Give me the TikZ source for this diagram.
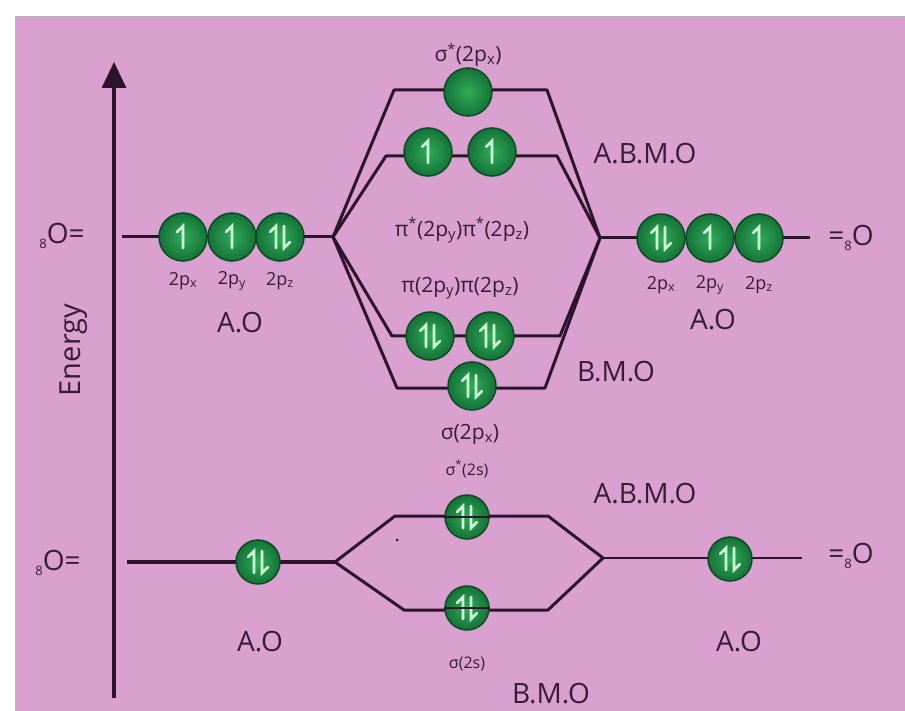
\documentclass[tikz,border=0pt]{standalone}
\usepackage{fontspec}
\setmainfont{Open Sans}
\usetikzlibrary{arrows.meta}
\definecolor{bgpink}{RGB}{218,161,208}
\definecolor{ink}{RGB}{45,20,45}
\definecolor{txt}{RGB}{55,28,55}
\definecolor{orbin}{RGB}{50,170,90}
\definecolor{orbout}{RGB}{20,115,55}
\definecolor{orbedge}{RGB}{10,75,35}
\definecolor{elec}{RGB}{205,255,215}
\tikzset{
 orb/.style={circle, minimum size=48pt, inner sep=0pt, draw=orbedge, line width=1.5pt, inner color=orbin, outer color=orbout},
 orbs/.style={orb, minimum size=44pt},
 mo/.style={draw=ink, line width=3pt, line join=round},
 lbl/.style={text=txt, inner sep=0pt, font=\fontsize{28}{28}\selectfont},
 sublbl/.style={text=txt, inner sep=0pt, font=\fontsize{18}{18}\selectfont},
 mol/.style={text=txt, inner sep=0pt, font=\fontsize{21}{21}\selectfont},
 mos/.style={text=txt, inner sep=0pt, font=\fontsize{16}{16}\selectfont},
 el/.style={draw=elec, line width=2.6pt, line cap=round, line join=miter},
 upe/.pic={\draw[el] (0,11) -- (0,-11) -- (-6,-5);},
 dne/.pic={\draw[el] (0,-11) -- (0,11) -- (6,5);},
 paire/.pic={\draw[el] (-4,11) -- (-4,-11) -- (-10,-5); \draw[el] (4,-11) -- (4,11) -- (10,5);},
}
\begin{document}
\begin{tikzpicture}[x=1pt,y=-1pt]
\useasboundingbox (0,0) rectangle (905,711);
\fill[white] (0,0) rectangle (905,711);
\fill[bgpink] (15,17) rectangle (905,711);
\draw[gray!60, line width=1pt] (15,17) -- (905,17);

% energy axis
\coordinate (ax0) at (114,698);
\coordinate (ax1) at (114,62);
\draw[ink, line width=3.5pt, -{Triangle[length=26pt,width=24pt]}] (ax0) -- (ax1);
\node[lbl, rotate=90, font=\fontsize{29}{29}\selectfont] (energy) at (74,350) {Energy};

% ---------- upper (2p) part ----------
\coordinate (JL) at (333,237);
\coordinate (JR) at (600,238);
\coordinate (ALs) at (122,237);
\coordinate (ARe) at (810,238);
\coordinate (c1a) at (394,90);  \coordinate (c1b) at (547,90);
\coordinate (c2a) at (386,156); \coordinate (c2b) at (557,156);
\coordinate (c3a) at (392,336); \coordinate (c3b) at (560,336);
\coordinate (c4a) at (397,388); \coordinate (c4b) at (545,388);

\draw[mo] (ALs) -- (JL);
\draw[mo] (JR) -- (ARe);
\draw[mo] (JL) -- (c1a) -- (c1b) -- (JR);
\draw[mo] (JL) -- (c2a) -- (c2b) -- (JR);
\draw[mo] (JL) -- (c3a) -- (c3b) -- (JR);
\draw[mo] (JL) -- (c4a) -- (c4b) -- (JR);

\node[orb] (L1) at (183,237) {};
\node[orb] (L2) at (232,237) {};
\node[orb] (L3) at (280,237) {};
\node[orb] (R1) at (661,238) {};
\node[orb] (R2) at (710,238) {};
\node[orb] (R3) at (759,238) {};
\node[orb] (sab) at (468,92) {};
\node[orb] (pia1) at (428,152) {};
\node[orb] (pia2) at (492,152) {};
\node[orb] (pib1) at (430,336) {};
\node[orb] (pib2) at (490,336) {};
\node[orb] (sb) at (472,386) {};

\pic at (L1) {upe};
\pic at (L2) {upe};
\pic at (L3) {paire};
\pic at (R1) {paire};
\pic at (R2) {upe};
\pic at (R3) {upe};
\pic at (pia1) {upe};
\pic at (pia2) {upe};
\pic at (pib1) {paire};
\pic at (pib2) {paire};
\pic at (sb) {paire};

\node[sublbl] (l2px) at (183,281) {2p\textsubscript{x}};
\node[sublbl] (l2py) at (232,281) {2p\textsubscript{y}};
\node[sublbl] (l2pz) at (280,281) {2p\textsubscript{z}};
\node[sublbl] (r2px) at (661,285) {2p\textsubscript{x}};
\node[sublbl] (r2py) at (710,285) {2p\textsubscript{y}};
\node[sublbl] (r2pz) at (759,285) {2p\textsubscript{z}};

\node[mol] (tsab) at (468,55) {σ\textsuperscript{*}(2p\textsubscript{x})};
\node[mol] (tpia) at (462,230) {π\textsuperscript{*}(2p\textsubscript{y})π\textsuperscript{*}(2p\textsubscript{z})};
\node[mol] (tpib) at (460,288) {π(2p\textsubscript{y})π(2p\textsubscript{z})};
\node[mol] (tsb) at (470,434) {σ(2p\textsubscript{x})};

\node[lbl] (abmo1) at (645,154) {A.B.M.O};
\node[lbl] (bmo1) at (616,372) {B.M.O};
\node[lbl] (aol1) at (240,323) {A.O};
\node[lbl] (aor1) at (713,320) {A.O};
\node[lbl] (ol1) at (62,236) {{\fontsize{13}{13}\selectfont\raisebox{-5pt}{8}}O=};
\node[lbl] (or1) at (851,238) {={\fontsize{13}{13}\selectfont\raisebox{-5pt}{8}}O};

% ---------- lower (2s) part ----------
\coordinate (JL2) at (335,562);
\coordinate (JR2) at (603,558);
\coordinate (BLs) at (127,562);
\coordinate (BRe) at (802,558);
\coordinate (d1a) at (395,516); \coordinate (d1b) at (548,516);
\coordinate (d2a) at (404,610); \coordinate (d2b) at (548,610);

\draw[mo, line width=3.5pt] (BLs) -- (JL2);
\draw[mo, line width=2.5pt] (JR2) -- (BRe);
\draw[mo] (JL2) -- (d1a) -- (d1b) -- (JR2);
\draw[mo] (JL2) -- (d2a) -- (d2b) -- (JR2);

\node[orbs] (LA) at (258,562) {};
\node[orbs] (RA) at (730,559) {};
\node[orbs] (s2a) at (467,517) {};
\node[orbs] (s2b) at (467,608) {};
\pic at (LA) {paire};
\pic at (RA) {paire};
\pic at (s2a) {paire};
\pic at (s2b) {paire};
\draw[ink, line width=2pt] (s2a.west) -- (s2a.east);
\draw[ink, line width=2pt] (s2b.west) -- (s2b.east);

\node[mos] (ts2a) at (467,469) {σ\textsuperscript{*}(2s)};
\node[mos] (ts2b) at (467,664) {σ(2s)};
\node[lbl] (abmo2) at (645,494) {A.B.M.O};
\node[lbl] (bmo2) at (551,694) {B.M.O};
\node[lbl] (aol2) at (260,642) {A.O};
\node[lbl] (aor2) at (739,642) {A.O};
\node[lbl] (ol2) at (58,563) {{\fontsize{13}{13}\selectfont\raisebox{-5pt}{8}}O=};
\node[lbl] (or2) at (851,556) {={\fontsize{13}{13}\selectfont\raisebox{-5pt}{8}}O};
\fill[ink] (397,540) circle (1.5pt);
\end{tikzpicture}
\end{document}
